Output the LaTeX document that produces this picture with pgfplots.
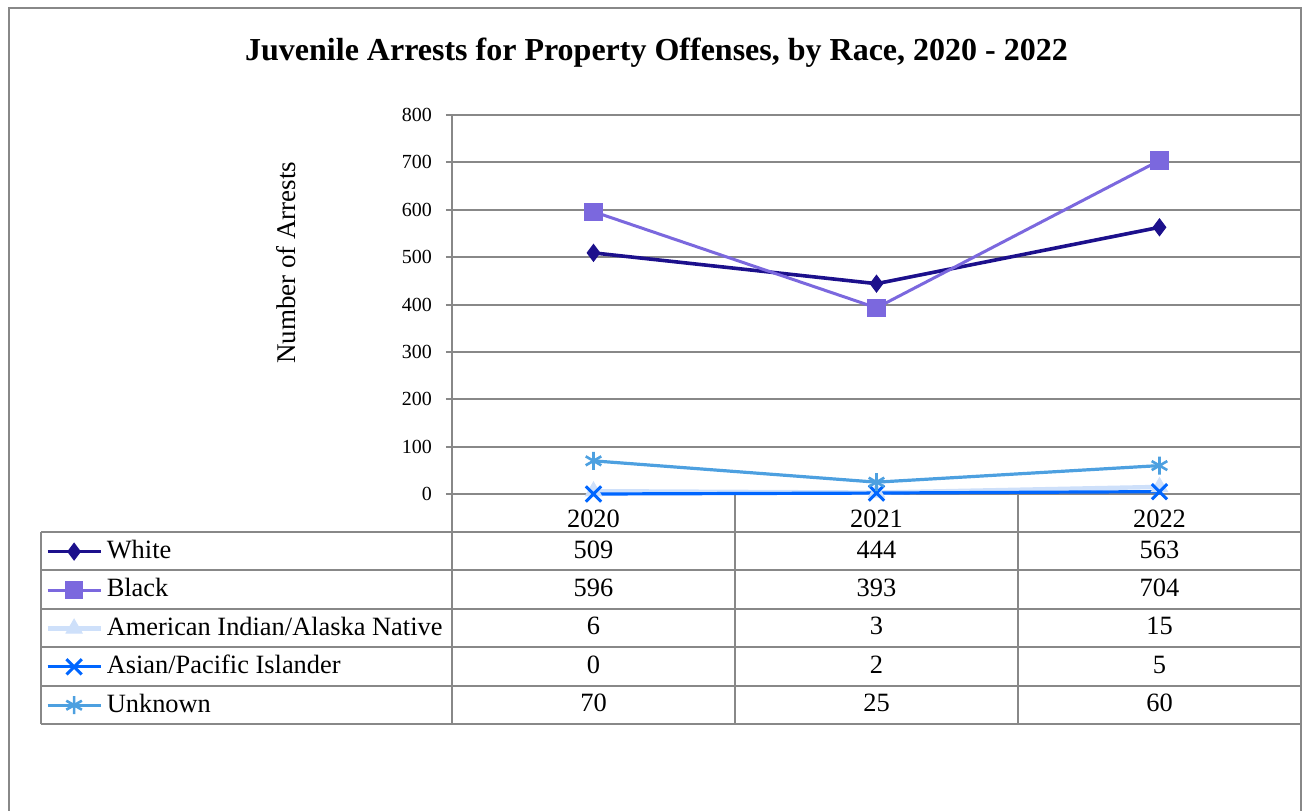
\documentclass[border=0pt]{standalone}
\usepackage{fontspec}
\setmainfont{Liberation Serif}
\usepackage{pgfplots}
\pgfplotsset{compat=1.18}
\definecolor{cWhite}{RGB}{28,16,140}
\definecolor{cBlack}{RGB}{123,104,222}
\definecolor{cAIAN}{RGB}{206,224,250}
\definecolor{cAsian}{RGB}{0,102,255}
\definecolor{cUnk}{RGB}{77,160,224}
\definecolor{gridc}{RGB}{136,136,136}
\begin{document}
\begin{tikzpicture}
\useasboundingbox (0,0) rectangle (651pt,-405pt);
\begin{scope}[x=0.5pt,y=-0.5pt]
\draw[gridc,line width=1pt] (9,840) -- (9,8) -- (1301,8) -- (1301,840);
\node[font=\bfseries\fontsize{16}{18}\selectfont,anchor=base,inner sep=0pt] at (656.5,60) {Juvenile Arrests for Property Offenses, by Race, 2020 - 2022};
\foreach \yy in {532,570.4,608.8,647.2,685.6,724} \draw[gridc,line width=1pt] (41,\yy) -- (1301,\yy);
\draw[gridc,line width=1pt] (41,532) -- (41,724);
\foreach \xx in {452,735,1018} \draw[gridc,line width=1pt] (\xx,494) -- (\xx,724);
\end{scope}
\begin{axis}[
  at={(226pt,-247pt)}, anchor=south west,
  scale only axis, width=424.5pt, height=189.5pt,
  xmin=-0.5, xmax=2.5, ymin=0, ymax=800,
  ytick={0,100,...,800},
  xtick={0,1,2}, xticklabels={2020,2021,2022},
  clip=false,
  axis line style={gridc,line width=1pt},
  ymajorgrids, grid style={gridc,line width=1pt},
  major tick length=3pt, tick align=outside,
  ytick style={gridc,line width=1pt},
  xtick style={draw=none},
  /pgf/number format/assume math mode=true,
  yticklabel style={font=\fontsize{10}{12}\selectfont,xshift=-3.5pt},
  xticklabel style={font=\fontsize{13.2}{15}\selectfont,anchor=base,inner sep=0pt,yshift=-13.85pt},
  ylabel={Number of Arrests},
  ylabel style={font=\fontsize{13.5}{15}\selectfont,at={(axis description cs:-0.1849,0.6103)},anchor=base},
  legend style={at={(-0.47939,-0.10026)}, anchor=north west, draw=none, fill=none, inner sep=0pt,
    row sep=0pt, column sep=2pt,
    nodes={inner sep=0pt, text height=13pt, text depth=6.2pt, font=\fontsize{13.2}{15}\selectfont}},
  legend cell align=left,
  legend image code/.code={\draw[mark repeat=2,mark phase=2,#1] plot coordinates {(0pt,0pt)(13.25pt,0pt)(26.5pt,0pt)};},
]
\addplot[cWhite, line width=1.8pt, mark=diamond*, mark size=4.2pt, mark options={solid,fill=cWhite,line width=0.5pt}] coordinates {(0,509)(1,444)(2,563)};
\addlegendentry{White}
\addplot[cBlack, line width=1.5pt, mark=square*, mark size=4.3pt, mark options={solid,fill=cBlack,line width=0.5pt}] coordinates {(0,596)(1,393)(2,704)};
\addlegendentry{Black}
\addplot[cAIAN, line width=2.2pt, mark=triangle*, mark size=4.6pt, mark options={solid,fill=cAIAN,line width=0.5pt}] coordinates {(0,6)(1,3)(2,15)};
\addlegendentry{American Indian/Alaska Native}
\addplot[cAsian, line width=1.6pt, mark=x, mark size=5.4pt, mark options={solid,line width=1.5pt}] coordinates {(0,0)(1,2)(2,5)};
\addlegendentry{Asian/Pacific Islander}
\addplot[cUnk, line width=1.6pt, mark=asterisk, mark size=4.5pt, mark options={solid,line width=1.3pt}] coordinates {(0,70)(1,25)(2,60)};
\addlegendentry{Unknown}
\begin{scope}[every node/.style={anchor=base,inner sep=0pt,font=\fontsize{13.2}{15}\selectfont}]
\node at ([yshift=-32pt]axis cs:0,0) {509};
\node at ([yshift=-32pt]axis cs:1,0) {444};
\node at ([yshift=-32pt]axis cs:2,0) {563};
\node at ([yshift=-51.2pt]axis cs:0,0) {596};
\node at ([yshift=-51.2pt]axis cs:1,0) {393};
\node at ([yshift=-51.2pt]axis cs:2,0) {704};
\node at ([yshift=-70.4pt]axis cs:0,0) {6};
\node at ([yshift=-70.4pt]axis cs:1,0) {3};
\node at ([yshift=-70.4pt]axis cs:2,0) {15};
\node at ([yshift=-89.6pt]axis cs:0,0) {0};
\node at ([yshift=-89.6pt]axis cs:1,0) {2};
\node at ([yshift=-89.6pt]axis cs:2,0) {5};
\node at ([yshift=-108.8pt]axis cs:0,0) {70};
\node at ([yshift=-108.8pt]axis cs:1,0) {25};
\node at ([yshift=-108.8pt]axis cs:2,0) {60};
\end{scope}
\end{axis}
\end{tikzpicture}
\end{document}
